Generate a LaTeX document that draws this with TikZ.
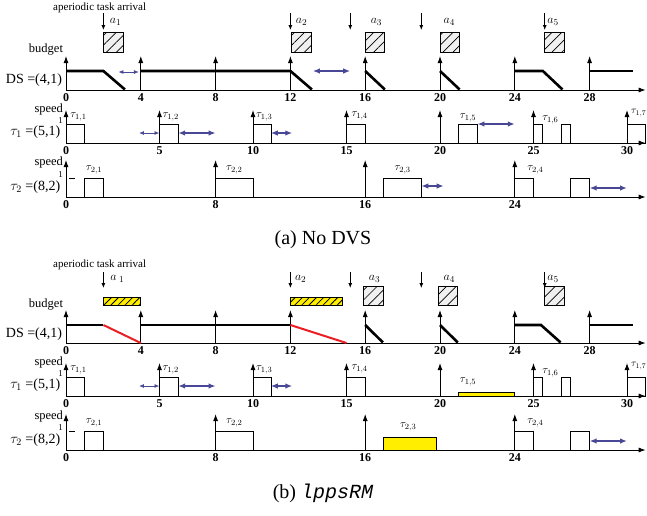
\documentclass[tikz,border=0pt]{standalone}
\usepackage[no-math]{fontspec}
\setmainfont{Liberation Serif}
\newfontfamily\courierfont{Liberation Mono}
\usetikzlibrary{arrows.meta,patterns.meta}

\definecolor{slackblue}{RGB}{72,72,150}
\definecolor{budgetred}{RGB}{235,30,35}
\definecolor{jobyellow}{RGB}{255,238,0}

\begin{document}
\begin{tikzpicture}[x=1pt, y=-1pt, >=Latex,
    axis/.style={line width=0.9pt, -{Latex[length=7pt,width=5pt]}},
    arrival/.style={line width=0.8pt, -{Latex[length=5pt,width=4pt]}},
    budgetline/.style={line width=2.6pt},
    drain/.style={line width=2pt, draw=budgetred},
    job/.style={draw, line width=0.9pt},
    hatchbox/.style={draw, line width=0.9pt, fill=gray!12, postaction={pattern={Lines[angle=45,distance=7pt,line width=0.7pt]}}},
    yellowhatch/.style={draw, line width=0.9pt, fill=jobyellow, postaction={pattern={Lines[angle=45,distance=5pt,line width=0.8pt]}}},
    slack/.style={line width=1.4pt, draw=slackblue, {Latex[length=7pt,width=5.5pt]}-{Latex[length=7pt,width=5.5pt]}},
    thinslack/.style={line width=0.9pt, draw=slackblue, {Latex[length=5pt,width=4pt]}-{Latex[length=5pt,width=4pt]}},
    axislbl/.style={anchor=east, inner sep=0pt, font=\fontsize{12.5}{14}\selectfont},
    tasklbl/.style={anchor=east, inner sep=0pt, font=\fontsize{14}{16}\selectfont},
    unitlbl/.style={anchor=east, inner sep=0pt, font=\fontsize{9}{10}\selectfont},
    ticklbl/.style={inner sep=0pt, font=\bfseries\fontsize{12}{14}\selectfont},
    joblbl/.style={inner sep=0pt, font=\fontsize{11}{13}\selectfont},
    arrlbl/.style={inner sep=0pt, font=\fontsize{13}{15}\selectfont},
    caption/.style={inner sep=0pt, font=\fontsize{20}{24}\selectfont}]

    \path[use as bounding box] (0,0) rectangle (647,515);
    \clip (0,0) rectangle (647,515);

    % ---------- (a) No DVS ----------
    \begin{scope}[xshift=66pt, x=18.7pt]
        % aperiodic arrivals
        \node[font=\fontsize{11}{13}\selectfont] (arrtextA) at (1.8,8) {aperiodic task arrival};
        \foreach \s in {2, 12, 15.2, 19, 25.6} \draw[arrival] (\s,13) -- (\s,30);
        \draw[hatchbox] (2,32) rectangle (3.07,52);
        \draw[hatchbox] (12.05,32) rectangle (13.1,52);
        \draw[hatchbox] (16,32) rectangle (17.05,52);
        \draw[hatchbox] (20,32) rectangle (21.05,52);
        \draw[hatchbox] (25.6,32) rectangle (26.65,52);
        \node[arrlbl] (a1A) at (2.65,22) {$a_1$};
        \node[arrlbl] (a2A) at (12.6,22) {$a_2$};
        \node[arrlbl] (a3A) at (16.6,22) {$a_3$};
        \node[arrlbl] (a4A) at (20.5,22) {$a_4$};
        \node[arrlbl] (a5A) at (26.05,22) {$a_5$};

        % deferrable server budget
        \node[axislbl] (budgetA) at (-0.15,50) {budget};
        \node[tasklbl] (dsA) at (-0.2,80) {DS =(4,1)};
        \draw[axis] (0,90) -- (31,90);
        \foreach \s in {0,4,...,28} {
            \draw[axis] (\s,90) -- (\s,56);
            \node[ticklbl] (btA\s) at (\s,98) {\s};
        }
        \draw[budgetline] (0,71) -- (2,71) -- (3.15,89.5);
        \draw[budgetline] (4,71) -- (12,71) -- (13.15,89.5);
        \draw[budgetline] (16,71) -- (17.05,89.5);
        \draw[budgetline] (20,71) -- (21.05,89.5);
        \draw[budgetline] (24,71) -- (25.5,71) -- (26.55,89.5);
        \draw[budgetline] (28,71) -- (30.3,71);
        \draw[thinslack] (2.8,72) -- (3.9,72);
        \draw[slack] (13.2,71) -- (15.2,71);

        % tau_1
        \node[axislbl] (speed1A) at (-0.15,109) {speed};
        \node[unitlbl] (one1A) at (-0.15,121) {1};
        \node[tasklbl] (tau1A) at (-0.3,132) {$\tau_1$ =(5,1)};
        \draw[axis] (0,143) -- (31,143);
        \foreach \s in {0,5,...,30} {
            \draw[axis] (\s,143) -- (\s,110);
            \node[ticklbl] (t1A\s) at (\s,151) {\s};
        }
        \foreach \s/\w in {0/1, 5/1, 10/1, 15/1, 21/1, 25/0.5, 26.5/0.5, 30/1}
            \draw[job] (\s,124) rectangle ({\s+\w},143);
        \node[joblbl] (j11A) at (0.67,117) {$\tau_{1,1}$};
        \node[joblbl] (j12A) at (5.6,117) {$\tau_{1,2}$};
        \node[joblbl] (j13A) at (10.6,117) {$\tau_{1,3}$};
        \node[joblbl] (j14A) at (15.7,116) {$\tau_{1,4}$};
        \node[joblbl] (j15A) at (21.5,118) {$\tau_{1,5}$};
        \node[joblbl] (j16A) at (25.9,120) {$\tau_{1,6}$};
        \node[joblbl, anchor=east, font=\fontsize{10}{12}\selectfont] (j17A) at (31.05,113) {$\tau_{1,7}$};
        \draw[thinslack] (3.9,133) -- (5,133);
        \draw[slack] (6,133) -- (8,133);
        \draw[slack] (10.95,133) -- (12.1,133);
        \draw[slack] (22,124) -- (24,124);

        % tau_2
        \node[axislbl] (speed2A) at (-0.15,162) {speed};
        \node[unitlbl] (one2A) at (-0.15,175) {1};
        \draw[line width=0.8pt] (0.15,178) -- (0.5,178);
        \node[tasklbl] (tau2A) at (-0.3,187) {$\tau_2$ =(8,2)};
        \draw[axis] (0,197) -- (31,197);
        \foreach \s in {0,8,16,24} {
            \draw[axis] (\s,197) -- (\s,160);
            \node[ticklbl] (t2A\s) at (\s,205) {\s};
        }
        \foreach \s/\w in {1/1, 8/2, 17/2, 24/1, 27/1}
            \draw[job] (\s,178) rectangle ({\s+\w},197);
        \node[joblbl] (j21A) at (1.5,170) {$\tau_{2,1}$};
        \node[joblbl] (j22A) at (9,170) {$\tau_{2,2}$};
        \node[joblbl] (j23A) at (18,170) {$\tau_{2,3}$};
        \node[joblbl] (j24A) at (25.1,170) {$\tau_{2,4}$};
        \draw[slack] (19,186) -- (20.2,186);
        \draw[slack] (28,188) -- (30,188);

        \node[caption] (capA) at (13.74,240) {(a) No DVS};
    \end{scope}

    % ---------- (b) lppsRM ----------
    \begin{scope}[xshift=66pt, yshift=-253pt, x=18.7pt]
        % aperiodic arrivals
        \node[font=\fontsize{11}{13}\selectfont] (arrtextB) at (1.8,12) {aperiodic task arrival};
        \foreach \s in {2, 12, 15.2, 19, 25.6} \draw[arrival] (\s,19) -- (\s,35);
        \draw[yellowhatch] (2,44) rectangle (4,52);
        \draw[yellowhatch] (12,44) rectangle (14.8,52);
        \draw[hatchbox] (15.9,33) rectangle (16.95,52);
        \draw[hatchbox] (19.9,33) rectangle (20.95,52);
        \draw[hatchbox] (25.6,33) rectangle (26.65,52);
        \node[arrlbl] (a1B) at (2.75,26) {$a_{\;1}$};
        \node[arrlbl] (a2B) at (12.55,26) {$a_2$};
        \node[arrlbl] (a3B) at (16.5,26) {$a_3$};
        \node[arrlbl] (a4B) at (20.5,26) {$a_4$};
        \node[arrlbl] (a5B) at (26.05,26) {$a_5$};

        % deferrable server budget
        \node[axislbl] (budgetB) at (-0.15,52) {budget};
        \node[tasklbl] (dsB) at (-0.2,81) {DS =(4,1)};
        \draw[axis] (0,90) -- (31,90);
        \foreach \s in {0,4,...,28} {
            \draw[axis] (\s,90) -- (\s,57);
            \node[ticklbl] (btB\s) at (\s,98) {\s};
        }
        \draw[budgetline] (0,72) -- (2,72);
        \draw[drain] (2,72) -- (4,90);
        \draw[budgetline] (4,72) -- (12,72);
        \draw[drain] (12,72) -- (15,90);
        \draw[budgetline] (16,72) -- (16.95,89.5);
        \draw[budgetline] (20,72) -- (20.95,89.5);
        \draw[budgetline] (24,72) -- (25.4,72) -- (26.45,89.5);
        \draw[budgetline] (28,72) -- (30.3,72);

        % tau_1
        \node[axislbl] (speed1B) at (-0.15,109) {speed};
        \node[unitlbl] (one1B) at (-0.15,121) {1};
        \node[tasklbl] (tau1B) at (-0.3,132) {$\tau_1$ =(5,1)};
        \draw[axis] (0,143) -- (31,143);
        \foreach \s in {0,5,...,30} {
            \draw[axis] (\s,143) -- (\s,110);
            \node[ticklbl] (t1B\s) at (\s,151) {\s};
        }
        \foreach \s/\w in {0/1, 5/1, 10/1, 15/1, 25/0.5, 26.5/0.5, 30/1}
            \draw[job] (\s,124) rectangle ({\s+\w},143);
        \draw[job, fill=jobyellow] (21,139) rectangle (24,143);
        \node[joblbl] (j11B) at (0.67,117) {$\tau_{1,1}$};
        \node[joblbl] (j12B) at (5.6,117) {$\tau_{1,2}$};
        \node[joblbl] (j13B) at (10.6,117) {$\tau_{1,3}$};
        \node[joblbl] (j14B) at (15.7,116) {$\tau_{1,4}$};
        \node[joblbl] (j15B) at (21.5,129) {$\tau_{1,5}$};
        \node[joblbl] (j16B) at (25.9,120) {$\tau_{1,6}$};
        \node[joblbl, anchor=east, font=\fontsize{10}{12}\selectfont] (j17B) at (31.05,113) {$\tau_{1,7}$};
        \draw[thinslack] (3.9,133) -- (5,133);
        \draw[slack] (6,133) -- (8,133);
        \draw[slack] (10.95,133) -- (12.1,133);

        % tau_2
        \node[axislbl] (speed2B) at (-0.15,163) {speed};
        \node[unitlbl] (one2B) at (-0.15,175) {1};
        \draw[line width=0.8pt] (0.15,178) -- (0.5,178);
        \node[tasklbl] (tau2B) at (-0.3,187) {$\tau_2$ =(8,2)};
        \draw[axis] (0,197) -- (31,197);
        \foreach \s in {0,8,16,24} {
            \draw[axis] (\s,197) -- (\s,161);
            \node[ticklbl] (t2B\s) at (\s,205) {\s};
        }
        \foreach \s/\w in {1/1, 8/2, 24/1, 27/1}
            \draw[job] (\s,178) rectangle ({\s+\w},197);
        \draw[job, fill=jobyellow] (17,184) rectangle (19.8,197);
        \node[joblbl] (j21B) at (1.5,170) {$\tau_{2,1}$};
        \node[joblbl] (j22B) at (9,170) {$\tau_{2,2}$};
        \node[joblbl] (j23B) at (18.3,174) {$\tau_{2,3}$};
        \node[joblbl] (j24B) at (25.1,170) {$\tau_{2,4}$};
        \draw[slack] (28,188) -- (30,188);

        \node[caption] (capB) at (13.74,240) {(b) {\courierfont\itshape lppsRM}};
    \end{scope}
\end{tikzpicture}
\end{document}
